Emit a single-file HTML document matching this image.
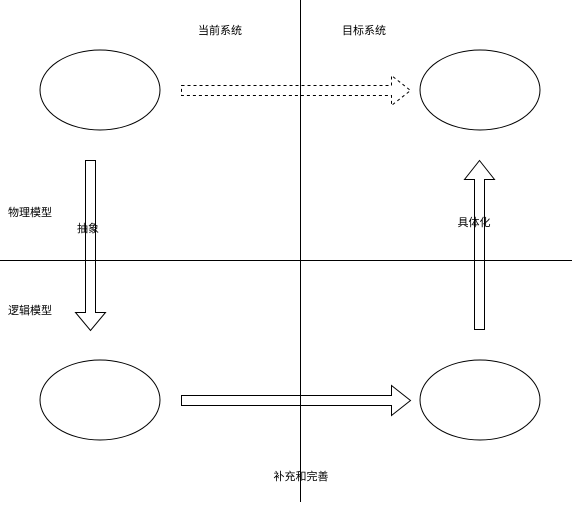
<!DOCTYPE html>
<html><head><meta charset="utf-8"><style>
html,body{margin:0;padding:0;background:#fff;}
svg text{font-family:"Liberation Sans","Noto Sans CJK SC",sans-serif;font-size:11px;fill:#000;}
</style></head><body>
<svg width="572" height="502" viewBox="0 0 572 502" xmlns="http://www.w3.org/2000/svg">
<line x1="300.5" y1="0" x2="300.5" y2="502" stroke="#000"/>
<line x1="0" y1="260.5" x2="572" y2="260.5" stroke="#000"/>
<g fill="#fff" stroke="#000">
<ellipse cx="100" cy="90" rx="60" ry="40"/>
<ellipse cx="480" cy="90" rx="60" ry="40"/>
<ellipse cx="100" cy="400" rx="60" ry="40"/>
<ellipse cx="480" cy="400" rx="60" ry="40"/>
<path d="M181.5 85.5 H391.5 V75.5 L410.5 90.5 L391.5 105.5 V95.5 H181.5 Z" stroke-dasharray="3 3" fill="none"/>
<path d="M181.5 395.5 H391.5 V385.5 L410.5 400.5 L391.5 415.5 V405.5 H181.5 Z" fill="none"/>
<path d="M85.5 160.5 H95.5 V312.5 H105.5 L90.5 330.5 L75.5 312.5 H85.5 Z" fill="none"/>
<path d="M474.5 329.5 H484.5 V179.5 H494.5 L479.5 160.5 L464.5 179.5 H474.5 Z" fill="none"/>
</g>
<text x="220" y="34" text-anchor="middle">当前系统</text>
<text x="364" y="34" text-anchor="middle">目标系统</text>
<text x="30" y="216" text-anchor="middle">物理模型</text>
<text x="88" y="232" text-anchor="middle">抽象</text>
<text x="30" y="314" text-anchor="middle">逻辑模型</text>
<text x="474" y="226" text-anchor="middle">具体化</text>
<text x="301" y="480" text-anchor="middle">补充和完善</text>
</svg>
</body></html>
